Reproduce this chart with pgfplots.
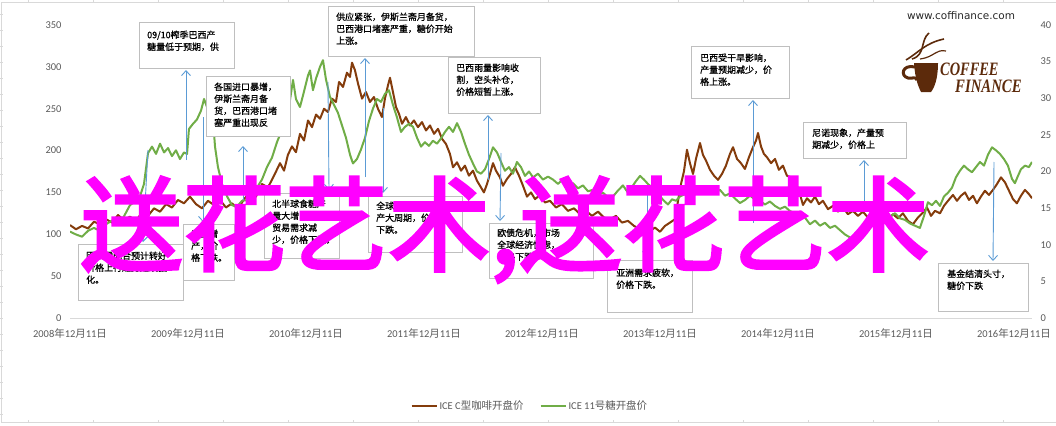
\documentclass[border=0pt]{standalone}
\usepackage{pgfplots}
\pgfplotsset{compat=1.18}
\usepackage{fontspec}
\usetikzlibrary{arrows.meta}
\setmainfont{Carlito}
\newfontfamily\cjk{Noto Sans CJK SC}
\newfontfamily\cjkbox{Noto Sans CJK SC}[FakeBold=0.8]
\newfontfamily\cjkwm{Noto Sans CJK SC}[FakeBold=3]
\newfontfamily\logofont{Liberation Serif}
\newfontfamily\webfont{DejaVu Sans}
\definecolor{coffee}{HTML}{843C0C}
\definecolor{sugar}{HTML}{70AD47}
\definecolor{tickgray}{HTML}{595959}
\definecolor{axisgray}{HTML}{D9D9D9}
\definecolor{boxgray}{HTML}{BFBFBF}
\definecolor{arrowblue}{HTML}{5B9BD5}
\definecolor{wm}{HTML}{FF00FF}
\definecolor{logobrown}{HTML}{5C2A0B}
\newcommand{\ymd}[1]{#1{\cjk 年}12{\cjk 月}11{\cjk 日}}
% box: x1,y1,x2,y2 (pixels from top-left), text x, first line centre y, text
\newcommand{\abox}[7]{%
  \draw[boxgray, fill=white, line width=1bp] (#1,{425-#2}) rectangle (#3,{425-#4});
  \node[anchor=north west, inner sep=0pt, align=left, font=\cjkbox\fontsize{9}{12}\selectfont] at (#5,{425-#6+4.6}) {#7};}
\newcommand{\arr}[4]{%
  \draw[arrowblue, line width=0.9bp, -{Straight Barb[length=5bp,width=9bp]}] (#1,{425-#2}) -- (#3,{425-#4});}
\begin{document}
\begin{tikzpicture}[x=1bp,y=1bp]
\path[use as bounding box] (0,0) rectangle (1056,425);
% spreadsheet frame
\draw[axisgray, line width=1bp] (1.5,2.5) -- (1.5,422) -- (1056,422);
\draw[axisgray, line width=1bp] (1.5,2.5) -- (1056,2.5);
\foreach \t in {28,93,158,223,288,353,418,483,548,613,678,743,808,873,938,1003}{
  \draw[axisgray, line width=0.8bp] (\t,422) -- (\t,425);
  \draw[axisgray, line width=0.8bp] (\t,2.5) -- (\t,5);}
\foreach \t in {14,30,...,414}{\draw[axisgray, line width=0.8bp] (0,{425-\t}) -- (3,{425-\t});}

\begin{axis}[
  at={(70bp,107bp)}, anchor=south west,
  scale only axis, width=962bp, height=293bp,
  xmin=0, xmax=8.153, ymin=0, ymax=350,
  axis x line*=bottom, axis y line*=left,
  x axis line style={draw=axisgray, line width=1bp, -},
  y axis line style={draw=none},
  xtick={0,1,2,3,4,5,6,7,8},
  xticklabels={\ymd{2008},\ymd{2009},\ymd{2010},\ymd{2011},\ymd{2012},\ymd{2013},\ymd{2014},\ymd{2015},\ymd{2016}},
  ytick={0,50,100,150,200,250,300,350},
  major tick length=0pt,
  tick label style={font=\fontsize{10.5}{12}\selectfont, text=tickgray},
  xticklabel style={yshift=-7bp},
  yticklabel style={xshift=-5bp},
  /pgf/number format/assume math mode=true,
  legend style={at={(0.478,-0.30)}, anchor=center, draw=none, fill=none,
    legend columns=2, font=\fontsize{10.5}{12}\selectfont, text=tickgray,
    /tikz/every even column/.append style={column sep=14bp}},
  legend image code/.code={\draw[#1] (0bp,0bp) -- (25bp,0bp);},
]
\addplot[coffee, line width=2bp, line join=round] coordinates {
(0.000,111) (0.051,106) (0.102,110) (0.153,107) (0.203,115) (0.254,112) (0.305,118) (0.356,114) (0.407,123) (0.458,117) (0.508,121) (0.559,116) (0.610,126) (0.661,122) (0.712,131) (0.763,127) (0.814,136) (0.864,132) (0.915,141) (0.966,137) (1.017,145) (1.068,136) (1.119,131) (1.169,140) (1.220,135) (1.271,141) (1.322,132) (1.373,137) (1.424,130) (1.475,142) (1.525,150) (1.576,145) (1.627,160) (1.678,156) (1.729,170) (1.780,185) (1.814,176) (1.847,195) (1.881,205) (1.915,198) (1.949,220) (1.983,212) (2.017,236) (2.051,228) (2.085,243) (2.119,238) (2.153,250) (2.186,246) (2.220,262) (2.254,258) (2.280,282) (2.314,276) (2.347,293) (2.373,288) (2.390,305) (2.415,296) (2.441,280) (2.475,262) (2.508,270) (2.542,258) (2.576,264) (2.610,250) (2.644,240) (2.669,262) (2.695,278) (2.712,287) (2.737,270) (2.763,252) (2.788,244) (2.814,232) (2.847,240) (2.881,230) (2.915,236) (2.949,228) (2.983,234) (3.017,224) (3.051,230) (3.085,220) (3.119,226) (3.153,214) (3.186,208) (3.220,196) (3.246,180) (3.280,186) (3.314,176) (3.347,182) (3.381,170) (3.415,176) (3.449,164) (3.483,156) (3.508,150) (3.534,160) (3.559,172) (3.585,185) (3.610,176) (3.644,168) (3.669,158) (3.703,166) (3.737,172) (3.771,180) (3.805,170) (3.839,158) (3.873,145) (3.907,150) (3.941,142) (3.983,147) (4.025,138) (4.068,140) (4.119,132) (4.169,136) (4.220,128) (4.271,131) (4.322,124) (4.373,128) (4.424,122) (4.475,127) (4.525,120) (4.576,118) (4.627,122) (4.678,114) (4.729,116) (4.780,110) (4.831,106) (4.873,100) (4.915,104) (4.958,108) (5.000,103) (5.042,110) (5.085,114) (5.127,118) (5.153,140) (5.178,160) (5.203,175) (5.229,201) (5.254,185) (5.280,172) (5.305,190) (5.339,209) (5.364,195) (5.390,188) (5.424,177) (5.458,170) (5.492,165) (5.525,172) (5.559,182) (5.593,196) (5.619,204) (5.653,190) (5.686,185) (5.720,178) (5.754,192) (5.788,204) (5.814,212) (5.831,221) (5.856,205) (5.881,196) (5.907,192) (5.941,185) (5.975,190) (6.008,177) (6.042,182) (6.076,170) (6.110,168) (6.144,162) (6.178,152) (6.212,135) (6.246,143) (6.280,138) (6.314,145) (6.347,136) (6.381,140) (6.424,130) (6.466,134) (6.508,127) (6.551,132) (6.593,124) (6.636,128) (6.678,122) (6.720,127) (6.763,120) (6.805,125) (6.847,119) (6.890,123) (6.932,118) (6.975,124) (7.017,119) (7.059,125) (7.102,116) (7.144,112) (7.186,120) (7.229,126) (7.263,132) (7.297,122) (7.331,128) (7.373,125) (7.407,134) (7.441,140) (7.483,147) (7.517,140) (7.551,146) (7.585,150) (7.619,141) (7.653,146) (7.686,137) (7.720,145) (7.754,152) (7.788,147) (7.822,153) (7.856,160) (7.890,168) (7.924,162) (7.958,152) (7.992,142) (8.025,137) (8.059,146) (8.093,153) (8.127,148) (8.153,143)
};
\addlegendentry{ICE C{\cjk 型咖啡开盘价}}
\addlegendimage{sugar, line width=2bp}
\addlegendentry{ICE 11{\cjk 号糖开盘价}}
\end{axis}

\begin{axis}[
  at={(70bp,107bp)}, anchor=south west,
  scale only axis, width=962bp, height=293bp,
  xmin=0, xmax=8.153, ymin=0, ymax=40,
  axis x line=none, axis y line*=right,
  y axis line style={draw=none},
  ytick={0,5,10,15,20,25,30,35,40},
  major tick length=0pt,
  tick label style={font=\fontsize{10.5}{12}\selectfont, text=tickgray},
  yticklabel style={xshift=5bp},
  /pgf/number format/assume math mode=true,
]
\addplot[sugar, line width=2bp, line join=round] coordinates {
(0.000,11.8) (0.051,11.4) (0.102,11.1) (0.153,11.9) (0.203,12.3) (0.254,11.9) (0.305,12.8) (0.356,13.3) (0.407,12.8) (0.458,13.9) (0.508,15.4) (0.559,16.0) (0.593,16.6) (0.627,18.3) (0.661,22.5) (0.695,23.4) (0.729,22.4) (0.763,23.8) (0.797,22.6) (0.831,23.2) (0.864,22.1) (0.898,22.9) (0.932,21.7) (0.966,22.6) (0.992,22.4) (1.008,25.8) (1.042,26.5) (1.076,27.1) (1.110,28.3) (1.136,29.9) (1.161,28.8) (1.186,27.8) (1.212,27.1) (1.229,23.4) (1.254,20.6) (1.288,18.3) (1.331,16.6) (1.373,15.4) (1.415,15.2) (1.458,16.0) (1.500,16.1) (1.542,17.1) (1.585,17.8) (1.627,18.9) (1.669,20.6) (1.712,21.9) (1.754,24.0) (1.797,25.7) (1.839,27.1) (1.864,29.7) (1.890,32.5) (1.915,29.9) (1.949,28.8) (1.983,30.9) (2.017,33.1) (2.034,33.8) (2.059,31.1) (2.085,32.7) (2.119,34.3) (2.144,35.2) (2.169,32.6) (2.203,30.2) (2.237,29.1) (2.271,28.0) (2.305,26.3) (2.339,24.6) (2.373,22.3) (2.398,21.1) (2.432,21.7) (2.466,23.0) (2.500,24.6) (2.534,26.9) (2.568,28.6) (2.602,29.9) (2.636,29.5) (2.669,30.6) (2.703,31.1) (2.737,29.1) (2.771,27.4) (2.805,25.4) (2.839,26.1) (2.873,26.5) (2.907,26.1) (2.941,24.6) (2.975,23.4) (3.008,24.0) (3.042,23.5) (3.076,24.2) (3.110,23.8) (3.144,24.5) (3.178,25.4) (3.212,26.1) (3.246,25.4) (3.280,26.6) (3.314,25.4) (3.347,23.8) (3.381,22.3) (3.415,21.1) (3.449,20.0) (3.483,19.7) (3.517,20.3) (3.551,21.7) (3.585,23.3) (3.619,22.6) (3.653,21.3) (3.686,20.1) (3.720,20.6) (3.754,19.7) (3.788,21.3) (3.822,20.6) (3.856,19.4) (3.890,20.0) (3.924,19.2) (3.966,19.7) (4.008,18.9) (4.051,19.3) (4.093,18.9) (4.136,18.3) (4.178,19.0) (4.220,18.1) (4.263,18.4) (4.305,17.7) (4.347,18.1) (4.390,17.3) (4.432,17.5) (4.475,16.8) (4.517,17.1) (4.559,16.5) (4.602,16.6) (4.644,17.4) (4.686,18.1) (4.729,17.1) (4.763,17.9) (4.797,18.7) (4.831,19.4) (4.864,18.9) (4.898,18.3) (4.932,17.8) (4.966,17.1) (5.000,16.6) (5.034,16.0) (5.068,15.5) (5.102,16.2) (5.136,16.0) (5.169,16.6) (5.212,16.9) (5.254,16.5) (5.297,17.1) (5.339,17.9) (5.381,17.5) (5.424,17.7) (5.466,17.1) (5.508,17.5) (5.551,16.7) (5.593,17.0) (5.636,16.3) (5.678,15.7) (5.720,16.1) (5.763,16.7) (5.805,16.2) (5.847,16.0) (5.890,15.5) (5.932,15.9) (5.975,15.3) (6.017,14.9) (6.059,15.2) (6.102,14.6) (6.144,14.3) (6.186,14.5) (6.229,13.7) (6.271,12.8) (6.314,13.3) (6.356,12.6) (6.398,13.0) (6.441,12.3) (6.483,12.6) (6.525,12.0) (6.568,11.4) (6.610,11.0) (6.636,10.6) (6.661,11.2) (6.695,11.7) (6.729,11.3) (6.763,12.6) (6.797,13.4) (6.831,14.2) (6.864,13.7) (6.907,14.4) (6.949,13.8) (6.992,14.3) (7.034,13.6) (7.076,13.4) (7.119,12.9) (7.161,12.6) (7.203,12.3) (7.237,13.9) (7.271,15.8) (7.305,15.4) (7.339,16.0) (7.373,15.3) (7.407,16.6) (7.441,17.1) (7.475,17.8) (7.508,19.2) (7.542,20.1) (7.576,20.8) (7.610,20.3) (7.644,19.9) (7.678,20.6) (7.712,21.3) (7.746,20.8) (7.780,22.3) (7.814,23.3) (7.847,22.9) (7.881,22.4) (7.915,21.7) (7.949,20.8) (7.983,19.0) (8.008,18.4) (8.034,19.4) (8.059,20.3) (8.093,20.8) (8.127,20.6) (8.153,21.3)
};
\end{axis}

% annotation boxes
\abox{139}{23}{234}{68}{147}{35}{09/10榨季巴西产\\糖量低于预期，供}
\abox{206}{76}{290}{136}{214}{87}{各国进口暴增，\\伊斯兰斋月备\\货，巴西港口堵\\塞严重出现反}
\abox{328}{7}{474}{56}{336}{17}{供应紧张，伊斯兰斋月备货，\\巴西港口堵塞严重，糖价开始\\上涨。}
\abox{448}{57}{540}{113}{456}{68}{巴西雨量影响收\\割，空头补仓，\\价格短暂上涨。}
\abox{691}{47}{789}{98}{700}{58}{巴西受干旱影响，\\产量预期减少，价\\格上涨。}
\abox{803}{122}{906}{158}{812}{133}{尼诺现象，产量预\\期减少，价格上}
\abox{938}{263}{1028}{311}{947}{274}{基金结清头寸，\\糖价下跌}
\abox{78}{244}{183}{300}{86}{256}{因供需配合预计转好\\价格上行趋势延续强\\化。}
\abox{183}{224}{234}{280}{191}{234}{巴西增\\产，价\\格下跌。}
\abox{264}{193}{339}{258}{272}{204}{北半球食糖产\\量大增，国际\\贸易需求减\\少，价格下跌。}
\abox{368}{196}{462}{252}{376}{206}{全球食糖进入增\\产大周期，价格\\下跌。}
\abox{489}{223}{593}{278}{497}{233}{欧债危机，市场\\全球经济忧虑，\\价格下跌。}
\abox{607}{260}{692}{312}{616}{273}{亚洲需求疲软，\\价格下跌。}
% arrows
\arr{186}{160}{186}{70}
\arr{148}{150}{143}{242}
\arr{203}{117}{203}{222}
\arr{243}{200}{243}{146}
\arr{328}{82}{329}{190}
\arr{365}{177}{365}{58}
\arr{383}{108}{383}{193}
\arr{488}{180}{488}{115}
\arr{501}{153}{500}{221}
\arr{753}{223}{753}{100}
\arr{864}{205}{864}{160}
\arr{647}{195}{647}{257}
\arr{994}{162}{993}{261}

% logo
\node[inner sep=0pt, font=\webfont\fontsize{10.5}{12}\selectfont, text=black!85] at (961,409) {www.coffinance.com};
\fill[logobrown] (914,362) -- (938,362) .. controls (938,345) and (934,337) .. (931,333) -- (921,333) .. controls (918,339) and (915,347) .. cycle;
\draw[logobrown, line width=3bp] (915,358) .. controls (902,361) and (900,349) .. (908,347) .. controls (912,346) and (916,349) .. (917,345);
\draw[logobrown, line width=1.6bp] (906,365) .. controls (918,372) and (925,382) .. (944,386);
\draw[logobrown, line width=1.6bp] (912,366) .. controls (926,370) and (920,385) .. (929,392);
\draw[logobrown, line width=1.2bp] (920,366) .. controls (935,368) and (935,376) .. (946,374);
\node[anchor=base west, inner sep=0pt, text=logobrown, font=\logofont\bfseries\itshape\fontsize{19}{20}\selectfont] at (940,350) {\scalebox{0.76}[1]{COFFEE}};
\node[anchor=base west, inner sep=0pt, text=logobrown, font=\logofont\bfseries\itshape\fontsize{19}{20}\selectfont] at (955,333) {\scalebox{0.78}[1]{FINANCE}};

% watermark
\node[anchor=base west, inner sep=0pt, text=wm, font=\cjkwm\fontsize{103}{103}\selectfont] at (80,162) {送花艺术,送花艺术};
\end{tikzpicture}
\end{document}
